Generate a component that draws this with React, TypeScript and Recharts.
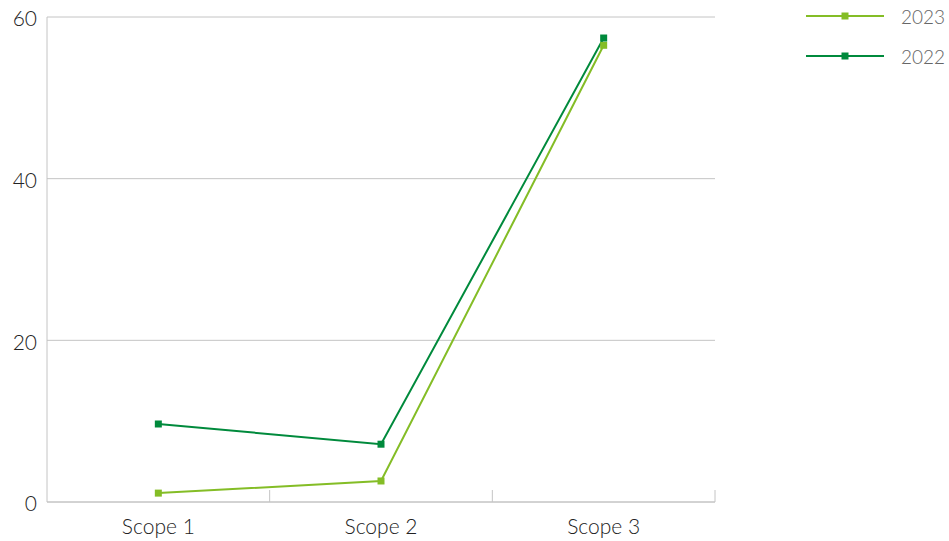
import React from 'react'
import { LineChart, Line, XAxis, YAxis, CartesianGrid } from 'recharts'

const categories = ['Scope 1', 'Scope 2', 'Scope 3']
const values2023 = [1.1, 2.6, 56.5]
const values2022 = [9.65, 7.15, 57.4]
const yTicks = [0, 20, 40, 60]

const LIGHT = '#84bd26'
const DARK = '#008a3c'
const GRID = '#c4c4c4'
const FONT = 'Lato, "Open Sans", sans-serif'

const data = categories.map((name, i) => ({
  name,
  y2023: values2023[i],
  y2022: values2022[i],
}))

const series = [
  { key: 'y2023', label: '2023', color: LIGHT },
  { key: 'y2022', label: '2022', color: DARK },
]

const squareDot = (color: string) => (props: any) => {
  const { cx, cy, index } = props
  if (cx == null || cy == null) return <g key={index} />
  return <rect key={index} x={cx - 3.5} y={cy - 3.5} width={7} height={7} fill={color} />
}

const LegendBox = () => (
  <div style={{ position: 'absolute', left: 806, top: -4, fontFamily: FONT }}>
    {series.map((s) => (
      <div key={s.key} style={{ display: 'flex', alignItems: 'center', height: 40 }}>
        <svg width={80} height={10}>
          <line x1={0} y1={5} x2={78} y2={5} stroke={s.color} strokeWidth={2} />
          <rect x={35.5} y={1.5} width={7} height={7} fill={s.color} />
        </svg>
        <span style={{ marginLeft: 15, fontSize: 19, color: '#666', fontWeight: 300 }}>{s.label}</span>
      </div>
    ))}
  </div>
)

// category label plus a short upward tick at the right edge of its band
const CategoryTick = (props: any) => {
  const { x, y, payload } = props
  const half = payload && payload.offset ? payload.offset : 0
  return (
    <g>
      {half > 0 && (
        <line x1={x + half} y1={y} x2={x + half} y2={y - 12} stroke={GRID} strokeWidth={1} />
      )}
      <text x={x} y={y + 17} dy="0.71em" textAnchor="middle" fill="#222" fontSize={21} fontFamily={FONT} fontWeight={300}>
        {payload.value}
      </text>
    </g>
  )
}

export default function App() {
  return (
    <div style={{ position: 'fixed', left: 0, top: 0, width: 949, height: 541, background: '#fff' }}>
      <LineChart width={949} height={541} data={data} margin={{ top: 17, right: 234, left: 0, bottom: 0 }}>
        <CartesianGrid horizontal vertical={false} stroke={GRID} />
        <XAxis
          dataKey="name"
          scale="band"
          height={39}
          axisLine={{ stroke: GRID }}
          tickLine={false}
          tickSize={0}
          tickMargin={0}
          tick={<CategoryTick />}
          interval={0}
        />
        <YAxis
          domain={[0, 60]}
          ticks={yTicks}
          width={47}
          axisLine={{ stroke: GRID }}
          tickLine={false}
          tickMargin={4}
          tick={{ fill: '#222', fontSize: 21, fontFamily: FONT, fontWeight: 300, dy: 2 }}
        />
        {series.map((s) => (
          <Line
            key={s.key}
            dataKey={s.key}
            name={s.label}
            stroke={s.color}
            strokeWidth={2}
            dot={squareDot(s.color)}
            activeDot={false}
            isAnimationActive={false}
          />
        ))}
      </LineChart>
      <LegendBox />
    </div>
  )
}
